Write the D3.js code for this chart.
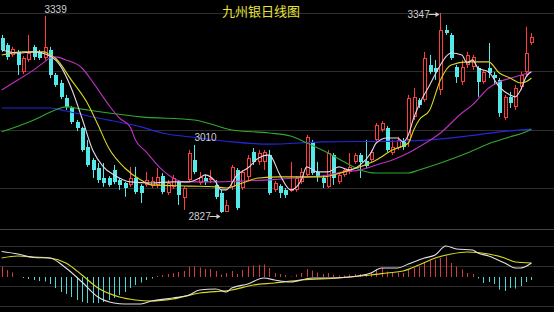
<!DOCTYPE html>
<html>
<head>
<meta charset="utf-8">
<script src="https://cdn.jsdelivr.net/npm/d3@7"></script>
<style>
  body { margin: 0; background: #000; }
  svg { display: block; }
</style>
</head>
<body>
<div id="chart"></div>
<script>
// daily candles (index 0..99)
var opens  = [3282,3264,3238,3246,3194,3225,3259,3246,3230,3251, 3186,3165,3126,3100,3064,3048,2999,2965,2944,2918,
              2918,2939,2913,2905,2900,2918,2897,2900,2897,2900, 2923,2879,2895,2908,2866,2913,2965,2905,2918,2913,
              2900,2879,2830,2895,2939,2892,2921,2986,2960,2960, 2978,2887,2897,2887,2887,2887,2908,2926,3012,2934,
              2918,2895,2978,2908,2926,2934,2960,2978,2962,2965, 3017,3043,3048,2983,2996,3012,3017,3077,3121,3121,
              3212,3204,3147,3303,3290,3207,3168,3212,3207,3204, 3168,3204,3186,3173,3074,3129,3103,3155,3194,3269];
var highs  = [3290,3269,3259,3251,3235,3290,3264,3251,3339,3259, 3191,3173,3134,3105,3069,3051,3017,2970,2957,2957,
              2923,2952,2918,2908,2947,2947,2902,2934,2921,2944, 2931,2913,2926,2913,2897,2991,3004,2934,2926,2939,
              2913,2887,2861,2952,2944,2939,2978,2996,2991,2991, 2991,2910,2902,2892,2960,2923,2944,3030,3017,2960,
              2926,2991,2983,2934,2944,2983,2983,2983,3017,2991, 3061,3066,3053,3017,3025,3022,3134,3152,3126,3246,
              3238,3225,3347,3316,3295,3212,3225,3246,3238,3209, 3199,3269,3194,3178,3134,3142,3160,3194,3311,3295];
var lows   = [3246,3225,3233,3186,3188,3220,3225,3225,3225,3178, 3155,3123,3095,3058,3040,2986,2947,2918,2905,2895,
              2895,2902,2887,2869,2895,2876,2853,2895,2892,2892, 2876,2874,2890,2848,2835,2908,2928,2900,2900,2905,
              2863,2827,2829,2887,2835,2887,2913,2952,2952,2939, 2874,2882,2866,2866,2882,2882,2902,2921,2926,2908,
              2892,2892,2900,2902,2921,2928,2955,2918,2944,2960, 3012,3038,2986,2978,2991,2991,2999,3069,3100,3116,
              3188,3173,3134,3290,3225,3165,3160,3204,3199,3129, 3163,3178,3160,3077,3069,3100,3095,3147,3186,3264];
var closes = [3251,3233,3253,3212,3230,3243,3233,3230,3259,3186, 3160,3129,3103,3064,3048,2991,2952,2939,2913,2905,
              2900,2908,2900,2892,2918,2882,2879,2913,2910,2921, 2882,2905,2918,2874,2892,2983,2934,2921,2908,2918,
              2869,2830,2848,2947,2840,2934,2970,2960,2983,2986, 2879,2905,2879,2874,2890,2918,2934,3025,2931,2921,
              2905,2983,2918,2926,2939,2947,2978,2960,2949,2986, 3056,3061,2991,2999,3017,2999,3126,3129,3108,3230,
              3194,3194,3303,3295,3230,3181,3207,3238,3233,3168, 3194,3191,3178,3087,3129,3113,3152,3186,3243,3285];

// moving averages, [candle index, price] read at points along each line
var ma5 = [[0,3251],[3,3243],[6,3246],[9,3235],[11,3209],[13,3152],[15,3074],[17,2991],[19,2947],[21,2926],
           [24,2908],[28,2905],[32,2908],[35,2908],[37,2918],[38,2926],[40,2908],[41,2887],[42,2887],[44,2926],
           [46,2944],[48,2970],[50,2978],[52,2926],[54,2887],[56,2913],[57,2947],[59,2934],[61,2934],[63,2947],
           [65,2939],[67,2952],[69,2983],[70,3009],[72,3022],[74,3022],[75,3012],[76,3030],[77,3074],[78,3108],
           [80,3160],[82,3212],[83,3233],[84,3243],[86,3238],[87,3217],[88,3225],[89,3204],[91,3194],[93,3155],
           [95,3134],[96,3129],[97,3147],[98,3181],[99,3194]];
var ma10 = [[0,3238],[4,3246],[8,3246],[9,3238],[10,3230],[13,3173],[16,3113],[18,3056],[20,2996],[23,2944],
            [26,2913],[28,2900],[35,2897],[40,2895],[42,2892],[45,2905],[48,2918],[52,2921],[60,2921],[64,2934],
            [67,2947],[70,2965],[73,2991],[76,3009],[77,3043],[78,3069],[80,3095],[82,3173],[84,3212],[87,3220],
            [91,3220],[93,3191],[95,3178],[97,3165],[98,3168],[99,3178]];
var ma20 = [[0,3147],[3,3173],[6,3199],[8,3220],[9,3230],[10,3233],[12,3225],[15,3204],[17,3168],[20,3108],
            [22,3074],[24,3051],[25,3017],[27,2986],[30,2939],[32,2918],[34,2908],[40,2908],[45,2910],[50,2913],
            [55,2918],[61,2926],[64,2934],[67,2939],[70,2952],[73,2965],[76,2983],[78,2999],[82,3035],[86,3087],
            [88,3108],[91,3152],[93,3168],[96,3181],[99,3194]];
var ma60 = [[0,3038],[6,3069],[10,3095],[12,3103],[15,3097],[20,3087],[26,3077],[36,3069],[43,3043],[50,3035],
            [54,3027],[57,3009],[61,2983],[64,2960],[67,2939],[70,2931],[76,2931],[78,2939],[82,2957],[87,2983],
            [92,3012],[95,3025],[98,3038],[99,3045]];
var ma120 = [[0,3100],[9,3100],[12,3092],[18,3074],[26,3051],[30,3035],[37,3022],[43,3012],[50,3006],[60,3012],
             [75,3014],[80,3017],[87,3027],[93,3038],[99,3045]];

// MACD panel
var macdHist = [21,14,9,0,-2,-4,-6,-8,-9,-14, -22,-30,-34,-40,-46,-50,-52,-52,-52,-50,
                -46,-42,-36,-30,-22,-16,-11,-6,-3,2, 4,6,8,10,12,21,21,19,16,16,
                12,5,8,12,6,14,21,23,24,25, 18,8,6,4,1,5,8,16,13,9,
                6,8,5,3,3,5,6,6,6,8, 15,18,11,9,9,8,15,18,21,30,
                33,35,38,41,28,21,15,8,6,-3, -12,-10,-14,-25,-28,-22,-23,-18,-10,-6];
var macdDif = [[0,51],[3,46],[6,39],[9,38],[12,18],[15,-10],[18,-40],[21,-52],[23,-54],[26,-54],
               [28,-48],[32,-42],[35,-36],[37,-26],[40,-24],[42,-30],[43,-22],[46,-14],[49,-2],[51,-6],
               [54,-10],[58,-2],[61,-2],[65,0],[69,8],[71,18],[74,18],[76,26],[79,38],[81,44],
               [83,62],[85,56],[88,54],[89,48],[91,42],[94,28],[96,18],[97,18],[99,28]];
var macdDea = [[0,38],[3,42],[6,40],[9,38],[12,28],[15,4],[18,-22],[22,-40],[25,-46],[28,-48],
               [32,-44],[37,-32],[43,-26],[47,-16],[51,-12],[56,-6],[63,-2],[69,4],[72,8],[75,12],
               [78,24],[81,38],[84,46],[87,50],[91,46],[94,38],[96,30],[99,28]];

// grid values and marked prices
var priceGrid = [3347, 3196, 3043, 2892];
var macdGrid = [96, 62, 22, -18, -58];
var titleText = "九州银日线图";
var marks = [{i: 8, price: 3339, text: "3339", kind: "top"},
             {i: 82, price: 3347, text: "3347", kind: "arrow"},
             {i: 41, price: 2827, text: "2827", kind: "arrow"},
             {i: 38, price: 3010, text: "3010", kind: "level"}];

var svgWidth = 554, svgHeight = 312;
var candles = d3.range(opens.length).map(function(i) {
  return {i: i, o: opens[i], h: highs[i], l: lows[i], c: closes[i]};
});

var svg = d3.select("#chart").append("svg")
  .attr("width", svgWidth)
  .attr("height", svgHeight)
  .style("background", "#000");

var xScale = d3.scaleLinear().domain([0, 99]).range([1.7, 531.4]);
var yScale = d3.scaleLinear().domain([2827, 3347]).range([213, 13]);
var macdScale = d3.scaleLinear().domain([-60, 70]).range([307, 242]);

var upColor = "#ff3c3c", downColor = "#54e8e8";
function px(i) { return Math.round(xScale(i)); }

// grid
svg.append("g").selectAll("line").data(priceGrid).enter().append("line")
  .attr("x1", 0).attr("x2", svgWidth)
  .attr("y1", d => Math.round(yScale(d)) + 0.5)
  .attr("y2", d => Math.round(yScale(d)) + 0.5)
  .attr("stroke", "#2e2e2e");
svg.append("g").selectAll("line").data(macdGrid).enter().append("line")
  .attr("x1", 0).attr("x2", svgWidth)
  .attr("y1", d => Math.round(macdScale(d)) + 0.5)
  .attr("y2", d => Math.round(macdScale(d)) + 0.5)
  .attr("stroke", (d, k) => k == 0 ? "#444" : "#2e2e2e");

// candles
var cg = svg.append("g");
cg.selectAll("line.wick").data(candles).enter().append("line")
  .attr("class", "wick")
  .attr("x1", d => px(d.i) + 0.5).attr("x2", d => px(d.i) + 0.5)
  .attr("y1", d => yScale(d.h)).attr("y2", d => yScale(d.l))
  .attr("stroke", d => d.c >= d.o ? upColor : downColor);
cg.selectAll("rect.down").data(candles.filter(d => d.c < d.o)).enter().append("rect")
  .attr("class", "down")
  .attr("x", d => px(d.i) - 1)
  .attr("width", 4)
  .attr("y", d => Math.round(yScale(d.o)))
  .attr("height", d => Math.max(1, Math.round(yScale(d.c) - yScale(d.o))))
  .attr("fill", downColor);
cg.selectAll("rect.up").data(candles.filter(d => d.c >= d.o)).enter().append("rect")
  .attr("class", "up")
  .attr("x", d => px(d.i) - 0.5)
  .attr("width", 3)
  .attr("y", d => Math.round(yScale(d.c)) + 0.5)
  .attr("height", d => Math.max(1, Math.round(yScale(d.o) - yScale(d.c)) - 1))
  .attr("fill", "#000")
  .attr("stroke", upColor);

// moving average lines
var maLine = d3.line()
  .x(d => xScale(d[0]))
  .y(d => yScale(d[1]))
  .curve(d3.curveMonotoneX);
[[ma120, "#2626d8"], [ma60, "#2fa82f"], [ma20, "#c030c0"], [ma10, "#d8d820"], [ma5, "#e6d6e6"]]
  .forEach(function(s) {
    svg.append("path").datum(s[0])
      .attr("d", maLine)
      .attr("fill", "none")
      .attr("stroke", s[1])
      .attr("stroke-width", 1.1);
  });

// MACD histogram + lines
svg.append("g").selectAll("line").data(macdHist).enter().append("line")
  .attr("x1", (d, i) => px(i) + 0.5).attr("x2", (d, i) => px(i) + 0.5)
  .attr("y1", macdScale(0))
  .attr("y2", d => macdScale(d))
  .attr("stroke", d => d >= 0 ? "#d23c3c" : "#4fd6d6");
var macdLine = d3.line()
  .x(d => xScale(d[0]))
  .y(d => macdScale(d[1]))
  .curve(d3.curveMonotoneX);
svg.append("path").datum(macdDea).attr("d", macdLine)
  .attr("fill", "none").attr("stroke", "#d8d820").attr("stroke-width", 1.2);
svg.append("path").datum(macdDif).attr("d", macdLine)
  .attr("fill", "none").attr("stroke", "#e0e0e8").attr("stroke-width", 1.1);

// title
svg.append("text")
  .attr("x", 261).attr("y", 16)
  .attr("text-anchor", "middle")
  .attr("font-family", "Noto Sans CJK SC, sans-serif")
  .attr("font-size", "13px")
  .attr("fill", "#e6e23a")
  .text(titleText);

// price marks
var mg = svg.append("g")
  .attr("font-family", "Liberation Sans, Arial, sans-serif")
  .attr("font-size", "10px")
  .attr("fill", "#d0d0d0");
marks.forEach(function(m) {
  var cx = px(m.i) + 0.5, cy = yScale(m.price);
  if (m.kind == "top") {
    mg.append("text").attr("x", cx - 1).attr("y", cy - 3).text(m.text);
  } else if (m.kind == "level") {
    mg.append("text").attr("x", cx).attr("y", cy - 1.5).attr("text-anchor", "middle").text(m.text);
  } else {
    var ay = Math.round(cy) + (m.price > 3100 ? 1.5 : 3.5);
    mg.append("text").attr("x", cx - 33).attr("y", ay + 3.5).text(m.text);
    mg.append("line").attr("x1", cx - 12).attr("x2", cx - 3)
      .attr("y1", ay).attr("y2", ay).attr("stroke", "#d0d0d0");
    mg.append("path")
      .attr("d", `M${cx - 1},${ay} L${cx - 5},${ay - 2.5} L${cx - 5},${ay + 2.5} Z`)
      .attr("fill", "#d0d0d0");
  }
});
</script>
</body>
</html>
